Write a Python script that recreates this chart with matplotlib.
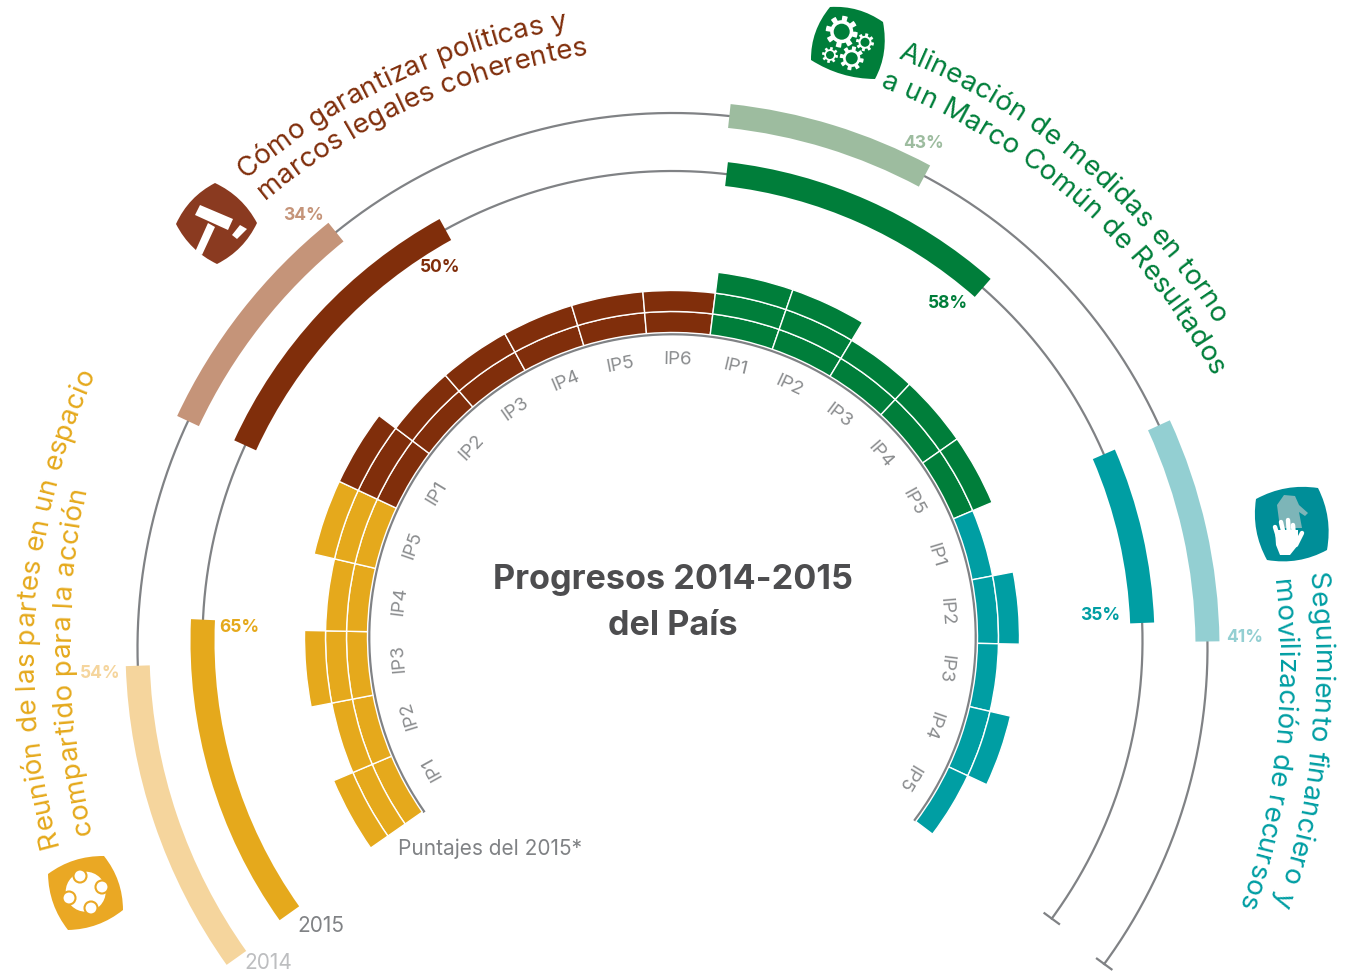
import numpy as np
import matplotlib
matplotlib.use('Agg')
import matplotlib.pyplot as plt
from matplotlib import font_manager, ft2font
from matplotlib.path import Path
from matplotlib.patches import PathPatch, Circle, Polygon

W, H = 1349, 973
CX, CY = 672.5, 637.5
FONT = 'Inter'

# one block per theme, going clockwise from the bottom left
yellow, brown, green, teal = '#E5A91C', '#802E0B', '#007E3A', '#009EA3'
colors = [yellow, brown, green, teal]
colors_2014 = ['#F5D59D', '#C59479', '#9DBC9F', '#93CFD2']

# how many bands each IP bar fills (2015 scores)
scores_yellow = [3, 2, 3, 2, 3]
scores_brown = [3, 2, 2, 2, 2, 2]
scores_green = [3, 3, 2, 2, 2]
scores_teal = [1, 2, 1, 2, 1]
scores = [scores_yellow, scores_brown, scores_green, scores_teal]

# share of the block covered by the outer arcs
arc_2015 = [62.5, 50, 57, 34.5]
arc_2014 = [55, 36, 35, 37]
labels_2015 = ['65%', '50%', '58%', '35%']
labels_2014 = ['54%', '34%', '43%', '41%']

pos_2015 = [(239, 628), (440, 267), (948, 304), (1100, 616)]
pos_2014 = [(100, 674), (303, 215), (923, 143), (1245, 637)]

# the outer arcs start a little before their block, in degrees
lead_2015 = [0.5, 0.5, 0.5, 0.5]
lead_2014 = [0.5, 0.0, 1.0, 1.7]

GRAY = '#808285'
START = 235.1
STEP = 12
R0, BAND = 305, 21


def curved_text(ax, s, p0, pm, p1, size, color):
    # circle through three baseline points, then letter by letter along it
    A = np.array([[2 * (pm[0] - p0[0]), 2 * (pm[1] - p0[1])],
                  [2 * (p1[0] - p0[0]), 2 * (p1[1] - p0[1])]])
    b = np.array([pm[0]**2 + pm[1]**2 - p0[0]**2 - p0[1]**2,
                  p1[0]**2 + p1[1]**2 - p0[0]**2 - p0[1]**2])
    c = np.linalg.solve(A, b)
    r = np.hypot(p0[0] - c[0], p0[1] - c[1])
    a0 = np.arctan2(p0[0] - c[0], -(p0[1] - c[1]))
    a1 = np.arctan2(p1[0] - c[0], -(p1[1] - c[1]))
    if a1 < a0:
        a1 += 2 * np.pi

    font = font_manager.get_font(font_manager.findfont(FONT))
    font.set_size(size, 100)
    adv = []
    for ch in s:
        g = font.load_char(ord(ch), flags=ft2font.LoadFlags.NO_HINTING)
        adv.append(g.linearHoriAdvance / 65536)
    adv = np.array(adv)
    mids = (np.cumsum(adv) - adv / 2) / adv.sum()
    for ch, m in zip(s, mids):
        a = a0 + (a1 - a0) * m
        x = c[0] + r * np.sin(a)
        y = c[1] - r * np.cos(a)
        ax.text(x, y, ch, fontsize=size, color=color, family=FONT,
                rotation=-np.degrees(a), rotation_mode='anchor',
                ha='center', va='baseline')


def icon(ax, corners, color, bulge=0.17):
    pts = np.array(corners, dtype=float)
    mid = pts.mean(axis=0)
    verts = [pts[0]]
    codes = [Path.MOVETO]
    for i in range(4):
        p, q = pts[i], pts[(i + 1) % 4]
        m = (p + q) / 2
        ctrl = m + (m - mid) * bulge * 2
        verts += [ctrl, q]
        codes += [Path.CURVE3, Path.CURVE3]
    ax.add_patch(PathPatch(Path(verts, codes), fc=color, ec='none'))


def gear(ax, x, y, r, color):
    t = np.linspace(0, 2 * np.pi, 145)
    rr = r * (0.86 + 0.14 * np.sign(np.sin(8 * t)))
    ax.add_patch(Polygon(np.c_[x + rr * np.cos(t), y + rr * np.sin(t)], fc='white', ec='none'))
    ax.add_patch(Circle((x, y), r * 0.5, fc=color, ec='none'))


def polar_axes(cy):
    # polar axes sized so one radial unit is one pixel
    a = fig.add_axes([(CX - 700) / W, (H - cy - 700) / H, 1400 / W, 1400 / H], projection='polar')
    a.set_theta_zero_location('N')
    a.set_theta_direction(-1)
    a.set_ylim(0, 700)
    a.axis('off')
    a.patch.set_alpha(0)
    return a


fig = plt.figure(figsize=(W / 100, H / 100), dpi=100, facecolor='white')

inner_guide = np.radians(np.linspace(235.1, 126.9 + 360, 400))
outer_guide = np.radians(np.linspace(235.1, 126.2 + 360, 400))

blocks = []
k = 0
for group in scores:
    blocks.append((START + k * STEP, len(group) * STEP))
    k += len(group)

# the two outer rings are not quite concentric with the inner one
ax14 = polar_axes(648)
ax15 = polar_axes(641)
for a, r, bottom, vals, leads, cols in [(ax14, 535, 523, arc_2014, lead_2014, colors_2014),
                                        (ax15, 470, 458, arc_2015, lead_2015, colors)]:
    a.plot(outer_guide, np.full(outer_guide.size, r), color=GRAY, lw=1.6, zorder=1)
    a.plot([np.radians(126.2)] * 2, [r - 9, r + 9], color=GRAY, lw=1.6, zorder=1)
    for (a0, span), v, lead, c in zip(blocks, vals, leads, cols):
        a.bar(np.radians(a0 - lead), 24, width=np.radians(span * v / 100 + lead), bottom=bottom,
              align='edge', color=c, zorder=2)

# inner IP bars
ax = polar_axes(CY)
ax.plot(inner_guide, np.full(inner_guide.size, R0 - 1.5), color=GRAY, lw=2.0, zorder=1)
k = 0
for group, col in zip(scores, colors):
    for n in group:
        th = np.radians(START + k * STEP)
        for lev in range(n):
            ax.bar(th, BAND, width=np.radians(STEP), bottom=R0 + lev * BAND, align='edge',
                   color=col, edgecolor='white', linewidth=1.0, zorder=3)
        k += 1

# IP labels sit a few pixels above the bars' centre
axl = polar_axes(635)
k = 0
for group in scores:
    for i in range(len(group)):
        mid = START + (k + 0.5) * STEP
        axl.text(np.radians(mid), 277, 'IP%d' % (i + 1), color='#8A8C8E', fontsize=13.5, family=FONT,
                 rotation=-mid, rotation_mode='anchor', ha='center', va='center_baseline')
        k += 1

# overlay in pixel coordinates for texts and icons
ov = fig.add_axes([0, 0, 1, 1])
ov.set_xlim(0, W)
ov.set_ylim(H, 0)
ov.axis('off')
ov.patch.set_alpha(0)

for txt, p, c in zip(labels_2015, pos_2015, colors):
    ov.text(p[0], p[1], txt, color=c, fontsize=12.5, fontweight='bold', family=FONT, ha='center', va='center')
for txt, p, c in zip(labels_2014, pos_2014, colors_2014):
    ov.text(p[0], p[1], txt, color=c, fontsize=12.5, fontweight='bold', family=FONT, ha='center', va='center')

ov.text(321, 926, '2015', color=GRAY, fontsize=15, family=FONT, ha='center', va='center')
ov.text(268, 963, '2014', color='#BDBEC0', fontsize=15, family=FONT, ha='center', va='center')
ov.text(490.5, 849, 'Puntajes del 2015*', color=GRAY, fontsize=15, family=FONT, ha='center', va='center')
ov.text(673, 580, 'Progresos 2014-2015', color='#4D4D4F', fontsize=24.6, fontweight='bold', family=FONT, ha='center', va='center')
ov.text(673, 626, 'del País', color='#4D4D4F', fontsize=24.6, fontweight='bold', family=FONT, ha='center', va='center')

TS = 20
curved_text(ov, 'Reunión de las partes en un espacio', (58, 845), (35, 610), (95, 373), TS, yellow)
curved_text(ov, 'compartido para la acción', (92, 833), (70, 627), (86, 488), TS, yellow)
curved_text(ov, 'Cómo garantizar políticas y', (245, 179), (380, 90), (568, 28), TS, brown)
curved_text(ov, 'marcos legales coherentes', (265, 200), (429, 100), (588, 55), TS, brown)
curved_text(ov, 'Alineación de medidas en torno', (897, 58), (1103, 189), (1215, 325), TS, green)
curved_text(ov, 'a un Marco Común de Resultados', (880, 87), (1110, 239), (1212, 377), TS, green)
curved_text(ov, 'Seguimiento financiero y', (1308, 573), (1308, 753), (1273, 905), TS, teal)
curved_text(ov, 'movilización de recursos', (1273, 580), (1271, 767), (1238, 907), TS, teal)

# icons
icon(ov, [(215, 183), (257, 223), (217, 264), (176, 224)], '#8A3A20')
ov.add_patch(Polygon([(200, 205), (233, 219), (228, 230), (195, 215)], fc='white'))
ov.add_patch(Polygon([(208, 223), (215, 227), (202, 255), (195, 252)], fc='white'))
ov.add_patch(Polygon([(240, 225), (247, 229), (237, 239), (232, 235)], fc='white'))

icon(ov, [(830, 7), (883, 22), (875, 79), (811, 60)], green)
gear(ov, 841.7, 31.7, 16, green)
gear(ov, 865, 42.3, 9, green)
gear(ov, 851.7, 58.3, 12, green)
gear(ov, 830, 55, 8, green)

icon(ov, [(1256, 499), (1318, 488), (1327, 550), (1267, 560)], '#008E98')
back = [(1277, 505), (1284, 495), (1295, 496), (1299, 505), (1308, 513), (1305, 516), (1299, 512),
        (1302, 528), (1280, 528)]
ov.add_patch(Polygon(back, fc='#7DB5B8', ec='none'))
ov.add_patch(Polygon([(1275, 530), (1298, 530), (1298, 545), (1290, 555), (1280, 555), (1276, 545)], fc='white', ec='none'))
for x0, y0, x1, y1 in [(1279, 540, 1275, 527), (1284, 535, 1281, 522), (1289, 535, 1288, 520),
                       (1294, 537, 1293, 525), (1296, 545, 1302, 533)]:
    ov.plot([x0, x1], [y0, y1], color='white', lw=3.2, solid_capstyle='round')

icon(ov, [(48, 874), (104, 856), (123, 910), (68, 930)], '#EAA824')
ov.add_patch(Circle((85.7, 891.7), 20, fc='white', ec='none'))
for x, y in [(80, 876), (102, 887), (69, 898), (91, 908)]:
    ov.add_patch(Circle((x, y), 6.5, fc='white', ec='#EAA824', lw=1.5))

fig.savefig('out.png', dpi=100)
